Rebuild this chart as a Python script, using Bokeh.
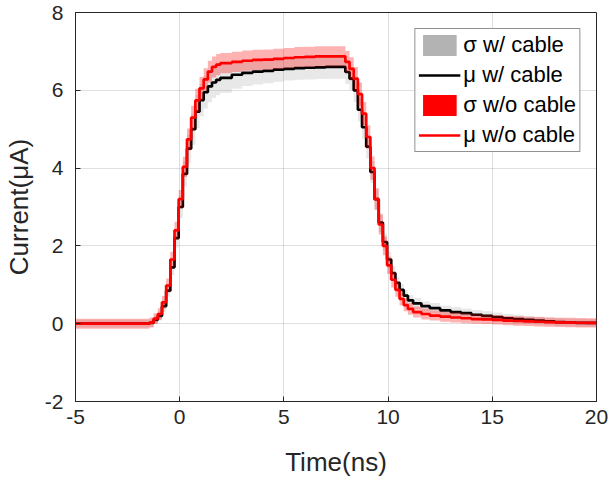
from bokeh.plotting import figure
from bokeh.models import Range1d, FixedTicker, Legend, LegendItem, ColumnDataSource
from bokeh.embed import file_html
from bokeh.resources import INLINE

# time points (ns) where the stair values change
t = [-5.0, -1.45, -1.25, -1.05, -0.85, -0.65, -0.45, -0.25, -0.05, 0.15, 0.35, 0.55,
     0.75, 0.95, 1.15, 1.35, 1.55, 1.75, 1.95, 2.5, 3.0, 3.5, 4.0, 4.5, 5.0, 5.5,
     6.0, 6.5, 7.0, 7.5, 7.95, 8.15, 8.35, 8.55, 8.75, 8.95, 9.15, 9.35, 9.55, 9.75,
     9.95, 10.15, 10.35, 10.55, 10.75, 10.95, 11.2, 11.6, 12.0, 12.5, 13.0, 13.5,
     14.0, 14.5, 15.0, 15.5, 16.0, 16.5, 17.0, 17.5, 18.0, 18.5, 19.0, 19.5, 20.0]

# mean current without cable (uA)
mu_wo = [0.0, 0.03, 0.13, 0.25, 0.55, 0.98, 1.65, 2.4, 3.2, 4.03, 4.74, 5.3,
         5.74, 6.05, 6.28, 6.48, 6.6, 6.66, 6.70, 6.73, 6.76, 6.78, 6.79, 6.81, 6.83, 6.85,
         6.86, 6.87, 6.87, 6.87, 6.73, 6.55, 6.3, 5.9, 5.4, 4.8, 4.0, 3.2, 2.55, 2.0,
         1.5, 1.13, 0.87, 0.64, 0.48, 0.38, 0.3, 0.25, 0.21, 0.18, 0.16, 0.14,
         0.12, 0.11, 0.1, 0.08, 0.07, 0.06, 0.05, 0.04, 0.035, 0.03, 0.025, 0.02, 0.02]

# mean current with cable (uA)
mu_w = [0.0, 0.02, 0.1, 0.2, 0.45, 0.85, 1.45, 2.2, 3.0, 3.85, 4.5, 5.0,
        5.45, 5.75, 5.95, 6.1, 6.2, 6.27, 6.32, 6.4, 6.45, 6.48, 6.5, 6.53, 6.55, 6.57,
        6.58, 6.59, 6.6, 6.6, 6.47, 6.3, 6.0, 5.5, 5.05, 4.55, 3.9, 3.2, 2.6, 2.1,
        1.65, 1.3, 1.05, 0.87, 0.72, 0.6, 0.52, 0.45, 0.4, 0.34, 0.3, 0.27,
        0.23, 0.2, 0.17, 0.14, 0.12, 0.1, 0.08, 0.06, 0.04, 0.03, 0.02, 0.02, 0.02]

# standard deviation without cable (uA)
sd_wo = [0.13, 0.13, 0.14, 0.15, 0.16, 0.18, 0.2, 0.22, 0.24, 0.26, 0.28, 0.3,
         0.3, 0.3, 0.29, 0.28, 0.27, 0.27, 0.26, 0.26, 0.26, 0.26, 0.26, 0.26, 0.26, 0.26,
         0.26, 0.26, 0.26, 0.26, 0.28, 0.3, 0.3, 0.3, 0.3, 0.3, 0.3, 0.28, 0.26, 0.24,
         0.22, 0.2, 0.18, 0.17, 0.16, 0.15, 0.14, 0.14, 0.13, 0.13, 0.13, 0.13,
         0.12, 0.12, 0.12, 0.12, 0.12, 0.12, 0.12, 0.12, 0.12, 0.12, 0.12, 0.12, 0.12]

# standard deviation with cable (uA)
sd_w = [0.1, 0.1, 0.11, 0.12, 0.14, 0.16, 0.2, 0.24, 0.28, 0.32, 0.36, 0.4,
        0.42, 0.42, 0.42, 0.41, 0.4, 0.39, 0.38, 0.36, 0.34, 0.33, 0.32, 0.31, 0.3, 0.3,
        0.3, 0.3, 0.3, 0.3, 0.3, 0.3, 0.3, 0.3, 0.3, 0.3, 0.28, 0.26, 0.24, 0.22,
        0.2, 0.18, 0.16, 0.15, 0.14, 0.14, 0.14, 0.13, 0.13, 0.13, 0.13, 0.12,
        0.12, 0.12, 0.12, 0.11, 0.11, 0.1, 0.1, 0.1, 0.1, 0.1, 0.1, 0.1, 0.1]

x_ticks = [-5, 0, 5, 10, 15, 20]
x_tick_labels = ["-5", "0", "5", "10", "15", "20"]
y_ticks = [-2, 0, 2, 4, 6, 8]
y_tick_labels = ["-2", "0", "2", "4", "6", "8"]

src = ColumnDataSource(dict(
    t=t, mu_wo=mu_wo, mu_w=mu_w,
    lo_wo=[m - s for m, s in zip(mu_wo, sd_wo)], hi_wo=[m + s for m, s in zip(mu_wo, sd_wo)],
    lo_w=[m - s for m, s in zip(mu_w, sd_w)], hi_w=[m + s for m, s in zip(mu_w, sd_w)],
))

AX = "#262626"
FONT = "Liberation Sans"

p = figure(width=609, height=479, output_backend="svg", toolbar_location=None,
           x_range=Range1d(-5, 20), y_range=Range1d(-2, 8),
           min_border_left=75, min_border_right=13, min_border_top=12, min_border_bottom=77)
p.extra_y_ranges = {"legend_proxy": Range1d(100, 101)}
p.background_fill_color = "white"
p.border_fill_color = "white"
p.outline_line_color = AX
p.outline_line_width = 1

for ax in (p.xaxis[0], p.yaxis[0]):
    ax.axis_line_color = AX
    ax.major_tick_line_color = AX
    ax.major_tick_in = 5
    ax.major_tick_out = 0
    ax.minor_tick_line_color = None
    ax.major_label_text_color = AX
    ax.major_label_text_font = FONT
    ax.major_label_text_font_size = "21px"
    ax.axis_label_text_color = AX
    ax.axis_label_text_font = FONT
    ax.axis_label_text_font_size = "26px"
    ax.axis_label_text_font_style = "normal"

p.xaxis[0].ticker = FixedTicker(ticks=x_ticks)
p.yaxis[0].ticker = FixedTicker(ticks=y_ticks)
p.xaxis[0].major_label_overrides = dict(zip(x_ticks, x_tick_labels))
p.yaxis[0].major_label_overrides = dict(zip(y_ticks, y_tick_labels))
p.xaxis[0].axis_label = "Time(ns)"
p.yaxis[0].axis_label = "Current(μA)"
p.xaxis[0].major_label_standoff = 8
p.yaxis[0].major_label_standoff = 12
p.xaxis[0].axis_label_standoff = 20
p.yaxis[0].axis_label_standoff = 8

p.xgrid.ticker = FixedTicker(ticks=x_ticks)
p.ygrid.ticker = FixedTicker(ticks=y_ticks)
p.grid.grid_line_color = AX
p.grid.grid_line_alpha = 0.15

GRAY = "#b3b3b3"
RED = "#ff0000"

p.varea_step(x="t", y1="lo_w", y2="hi_w", step_mode="after", source=src,
             fill_color=GRAY, fill_alpha=0.3)
l_w = p.step(x="t", y="mu_w", mode="after", source=src, line_color="black", line_width=2.7)
p.varea_step(x="t", y1="lo_wo", y2="hi_wo", step_mode="after", source=src,
             fill_color=RED, fill_alpha=0.3)
l_wo = p.step(x="t", y="mu_wo", mode="after", source=src, line_color=RED, line_width=2.7)

# full-colour patches for the legend (drawn on an off-screen range, so clipped away)
leg_gray = p.varea_step(x="t", y1="lo_w", y2="hi_w", step_mode="after", source=src,
                        fill_color=GRAY, fill_alpha=1, y_range_name="legend_proxy")
leg_red = p.varea_step(x="t", y1="lo_wo", y2="hi_wo", step_mode="after", source=src,
                       fill_color=RED, fill_alpha=1, y_range_name="legend_proxy")

legend = Legend(items=[
    LegendItem(label="σ w/ cable", renderers=[leg_gray]),
    LegendItem(label="μ w/ cable", renderers=[l_w]),
    LegendItem(label="σ w/o cable", renderers=[leg_red]),
    LegendItem(label="μ w/o cable", renderers=[l_wo]),
], location="top_right")
legend.margin = 16
legend.padding = 3
legend.spacing = 4
legend.glyph_width = 42
legend.glyph_height = 26
legend.label_height = 26
legend.label_standoff = 3
legend.label_text_font = FONT
legend.label_text_font_size = "22px"
legend.label_text_color = "black"
legend.border_line_color = AX
legend.border_line_width = 1
legend.background_fill_color = "white"
legend.background_fill_alpha = 1
p.add_layout(legend, "center")

open("out.html", "w").write(file_html(p, INLINE))
